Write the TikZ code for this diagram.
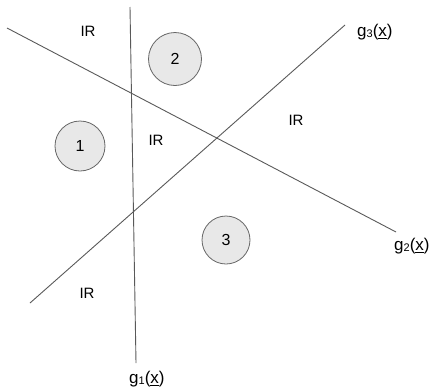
\documentclass[tikz,border=0pt]{standalone}
\usepackage{fontspec}
\setmainfont{Liberation Sans}
\begin{document}
\begin{tikzpicture}[x=1pt,y=-1pt,
  gline/.style={draw=black!65,line width=0.9pt},
  region/.style={circle,draw=black!60,fill=black!9,line width=0.8pt,minimum size=50pt,inner sep=0pt,font=\fontsize{16}{18}\selectfont},
  irlab/.style={font=\fontsize{15}{17}\selectfont,inner sep=0pt},
  glab/.style={font=\fontsize{17}{19}\selectfont,inner sep=0pt,anchor=west}]
\useasboundingbox (0,0) rectangle (434,389);
\coordinate (a1) at (130,7);
\coordinate (b1) at (136,363);
\coordinate (a2) at (7,28);
\coordinate (b2) at (396,232);
\coordinate (a3) at (30,303);
\coordinate (b3) at (345,25);
\draw[gline] (a1) -- (b1);
\draw[gline] (a2) -- (b2);
\draw[gline] (a3) -- (b3);
\node[region] (c1) at (80,146) {1};
\node[region,minimum size=53pt] (c2) at (175,59) {2};
\node[region,minimum size=48pt] (c3) at (226,240) {3};
\node[irlab] (ir1) at (88,31) {IR};
\node[irlab] (ir2) at (156,140) {IR};
\node[irlab] (ir3) at (296,120) {IR};
\node[irlab] (ir4) at (87,293) {IR};
\node[glab] (l3) at (357,32) {g\raisebox{-0.1ex}{\fontsize{11}{12}\selectfont 3}(\underline{x})};
\node[glab] (l2) at (394,246) {g\raisebox{-0.1ex}{\fontsize{11}{12}\selectfont 2}(\underline{x})};
\node[glab] (l1) at (129,379) {g\raisebox{-0.1ex}{\fontsize{11}{12}\selectfont 1}(\underline{x})};
\end{tikzpicture}
\end{document}
